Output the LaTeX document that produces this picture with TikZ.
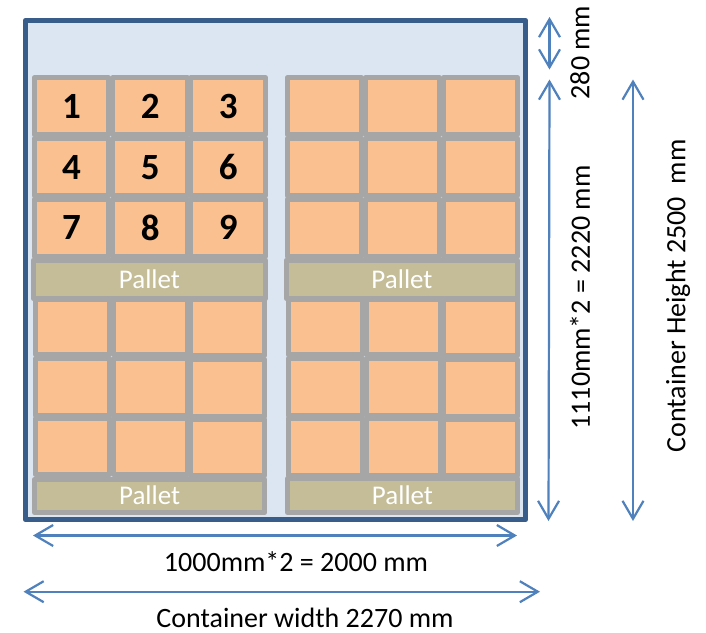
\documentclass[tikz,border=0pt]{standalone}
\usepackage{fontspec}
\setmainfont{Carlito}
\usetikzlibrary{arrows.meta}
\definecolor{contblue}{HTML}{385D8A}
\definecolor{contfill}{HTML}{DCE6F2}
\definecolor{cellgray}{HTML}{A6A6A6}
\definecolor{cartonfill}{HTML}{FAC090}
\definecolor{palletfill}{HTML}{C4BD97}
\definecolor{dimblue}{HTML}{4F81BD}
\tikzset{
  box/.style={draw=cellgray,line width=5pt,line join=round,inner sep=0pt,outer sep=0pt,anchor=center},
  carton/.style={box,fill=cartonfill,font=\fontsize{37}{37}\selectfont\bfseries,text=black},
  palletbox/.style={box,fill=palletfill,font=\fontsize{27}{27}\selectfont,text=white},
  dimarrow/.style={draw=dimblue,line width=2.2pt,{Straight Barb[length=18pt,width=21pt,line width=2.2pt]}-{Straight Barb[length=18pt,width=21pt,line width=2.2pt]}},
  dimlabel/.style={font=\fontsize{28}{28}\selectfont,text=black,inner sep=0pt}
}
% name, interior x1, y1, x2, y2, style, text
\newcommand{\packbox}[7]{%
  \pgfmathsetmacro{\cxx}{(#2+#4)/2}%
  \pgfmathsetmacro{\cyy}{(#3+#5)/2}%
  \pgfmathsetmacro{\www}{#4-#2+5}%
  \pgfmathsetmacro{\hhh}{#5-#3+5}%
  \node[#6,minimum width=\www pt,minimum height=\hhh pt] (#1) at (\cxx,\cyy) {#7};%
}
\newcommand{\pallettext}{\raisebox{1.2pt}{Pallet}}
\begin{document}
\begin{tikzpicture}[x=1pt,y=-1pt]
\useasboundingbox (0,0) rectangle (706,632);
\fill[white] (0,0) rectangle (706,632);
\node[draw=contblue,fill=contfill,line width=5.5pt,line join=round,inner sep=0pt,outer sep=0pt,minimum width=500pt,minimum height=499pt] (container) at (275.5,270) {};

% upper left cartons
\packbox{a1}{36.7}{80.3}{106.3}{132.3}{carton}{1}
\packbox{a2}{115.3}{80.3}{185}{132.3}{carton}{2}
\packbox{a3}{193.3}{80.3}{263}{132.3}{carton}{3}
\packbox{a4}{36.7}{141.3}{106.3}{193.3}{carton}{4}
\packbox{a5}{115.3}{141.3}{185}{193.3}{carton}{5}
\packbox{a6}{193.3}{141.3}{263}{193.3}{carton}{6}
\packbox{a7}{36.7}{201.7}{106.3}{254}{carton}{7}
\packbox{a8}{115.3}{201.7}{185}{254}{carton}{8}
\packbox{a9}{193.3}{201.7}{263}{254}{carton}{9}
\packbox{pa}{35.7}{262.7}{263.3}{296}{palletbox}{\pallettext}

% upper right cartons
\packbox{b1}{289.7}{80.3}{359}{132.3}{carton}{}
\packbox{b2}{367.7}{80.3}{437}{132.3}{carton}{}
\packbox{b3}{446}{80.3}{515.3}{132.3}{carton}{}
\packbox{b4}{289.7}{141.3}{359}{193.3}{carton}{}
\packbox{b5}{367.7}{141.3}{437}{193.3}{carton}{}
\packbox{b6}{446}{141.3}{515.3}{193.3}{carton}{}
\packbox{b7}{289.7}{201.7}{359}{254}{carton}{}
\packbox{b8}{367.7}{201.7}{437}{254}{carton}{}
\packbox{b9}{446}{201.7}{515.3}{254}{carton}{}
\packbox{pb}{288.7}{262.7}{515.3}{296}{palletbox}{\pallettext}

% lower left cartons
\packbox{c1}{38}{301.7}{107.3}{352.3}{carton}{}
\packbox{c2}{116.3}{301.7}{185.3}{352.3}{carton}{}
\packbox{c3}{193}{301.7}{262.3}{353.3}{carton}{}
\packbox{c4}{38}{361.3}{107.3}{413.3}{carton}{}
\packbox{c5}{116.3}{361.3}{185.3}{413.3}{carton}{}
\packbox{c6}{193}{362}{262.3}{414}{carton}{}
\packbox{c7}{38}{421}{107.3}{472.3}{carton}{}
\packbox{c8}{116.3}{421}{185.3}{472.3}{carton}{}
\packbox{c9}{193}{422}{262.3}{473.3}{carton}{}
\packbox{pc}{37}{481.7}{262.3}{510}{palletbox}{\pallettext}

% lower right cartons
\packbox{d1}{290.7}{301.7}{360}{352.3}{carton}{}
\packbox{d2}{369}{301.7}{438}{352.3}{carton}{}
\packbox{d3}{445.7}{301.7}{515}{353.3}{carton}{}
\packbox{d4}{290.7}{361.3}{360}{413}{carton}{}
\packbox{d5}{369}{361.3}{438}{413}{carton}{}
\packbox{d6}{445.7}{362}{515}{414}{carton}{}
\packbox{d7}{290.7}{420.7}{360}{472.7}{carton}{}
\packbox{d8}{369}{420.7}{438}{472.7}{carton}{}
\packbox{d9}{445.7}{421.7}{515}{473.3}{carton}{}
\packbox{pd}{290}{481.3}{515}{510}{palletbox}{\pallettext}

% dimension ends
\coordinate (w1l) at (33,535.5);
\coordinate (w1r) at (517,535.5);
\coordinate (w2l) at (23.5,591.7);
\coordinate (w2r) at (540,591.7);
\coordinate (h1t) at (549.5,17);
\coordinate (h1b) at (549.5,69.5);
\coordinate (h2t) at (549.5,79.5);
\coordinate (h2b) at (548.5,521);
\coordinate (h3t) at (633,79.5);
\coordinate (h3b) at (633,521);

\draw[dimarrow] (w1l) -- (w1r);
\draw[dimarrow] (w2l) -- (w2r);
\draw[dimarrow] (h1t) -- (h1b);
\draw[dimarrow] (h2t) -- (h2b);
\draw[dimarrow] (h3t) -- (h3b);

\node[dimlabel,anchor=base] (lw1) at (296,571) {1000mm*2 = 2000 mm};
\node[dimlabel,anchor=base] (lw2) at (305,627) {Container width 2270 mm};
\node[dimlabel,rotate=90] (lh1) at (580,52.5) {280 mm};
\node[dimlabel,rotate=90] (lh2) at (580,297.5) {1110mm*2 = 2220 mm};
\node[dimlabel,rotate=90] (lh3) at (678,296) {Container Height 2500\ \ mm};
\end{tikzpicture}
\end{document}
